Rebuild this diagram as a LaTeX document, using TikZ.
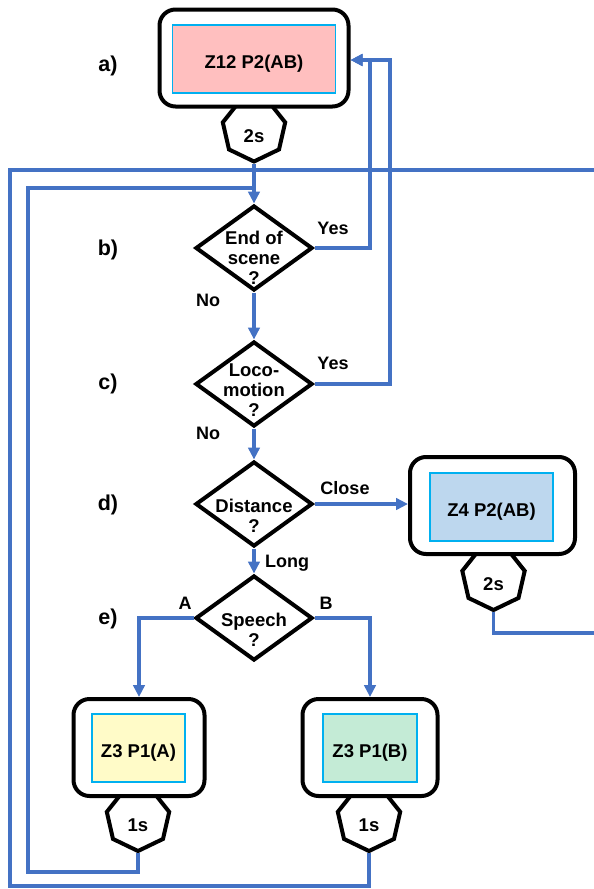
\documentclass[tikz,border=0pt]{standalone}
\usepackage{fontspec}
\setmainfont{Liberation Sans}
\usetikzlibrary{shapes.geometric,arrows.meta}
\definecolor{flowblue}{HTML}{4472C4}
\definecolor{innerline}{HTML}{00B0F0}
\definecolor{pinkfill}{HTML}{FFBFBF}
\definecolor{yellowfill}{HTML}{FFFBC8}
\definecolor{mintfill}{HTML}{C4EBD6}
\definecolor{bluefill}{HTML}{BDD7EE}
\begin{document}
\begin{tikzpicture}[x=1pt,y=-1pt,
  every node/.style={font=\bfseries\fontsize{18.5}{20}\selectfont},
  outerbox/.style={draw=black, line width=4pt, rounded corners=16pt, fill=white, minimum height=97pt},
  innerbox/.style={draw=innerline, line width=1.3pt, minimum height=68pt, text height=18pt, text depth=0pt, inner sep=0pt},
  hepta/.style={draw=black, line width=4pt, fill=white, regular polygon, regular polygon sides=7, shape border rotate=180, minimum size=64pt, inner sep=0pt, text height=25pt, text depth=0pt},
  decision/.style={draw=black, line width=4pt, fill=white, diamond, minimum width=117pt, minimum height=85pt, inner sep=0pt},
  dtext/.style={align=center, inner sep=0pt},
  steplabel/.style={font=\bfseries\fontsize{21.5}{24}\selectfont},
  edgelabel/.style={font=\bfseries\fontsize{18}{20}\selectfont, inner sep=0pt},
  flow/.style={draw=flowblue, line width=3.5pt},
  arr/.style={flow, -{Triangle[length=12pt,width=11.5pt]}},
]
\useasboundingbox (0,0) rectangle (594,889);

% a) scene box with its timer
\node[hepta] (ha) at (254,129.5) {2s};
\node[outerbox, minimum width=189pt] (boxa) at (254,58) {};
\node[innerbox, fill=pinkfill, minimum width=163pt] (ina) at (254,59) {Z12 P2(AB)};

% decisions
\node[decision] (db) at (254,248) {};
\node[dtext] (tb) at (254,258) {End of\\scene\\?};
\node[decision] (dc) at (254,384) {};
\node[dtext] (tc) at (254,390) {Loco-\\motion\\?};
\node[decision] (dd) at (254,504) {};
\node[dtext] (td) at (254,516) {Distance\\?};
\node[decision] (de) at (254,618) {};
\node[dtext] (te) at (254,629.5) {Speech\\?};

% d) close-distance box
\node[hepta] (hz) at (493.5,578) {2s};
\node[outerbox, minimum width=165pt] (boxz) at (492.5,505.5) {};
\node[innerbox, fill=bluefill, minimum width=123pt] (inz) at (491.5,507) {Z4 P2(AB)};

% e) speech boxes
\node[hepta] (hpa) at (138,819) {1s};
\node[outerbox, minimum width=131pt] (boxpa) at (139,747.5) {};
\node[innerbox, fill=yellowfill, minimum width=93pt] (inpa) at (138.5,748) {Z3 P1(A)};
\node[hepta] (hpb) at (369,819) {1s};
\node[outerbox, minimum width=135pt] (boxpb) at (370,747.5) {};
\node[innerbox, fill=mintfill, minimum width=94pt] (inpb) at (370,748) {Z3 P1(B)};

% step labels
\node[steplabel] (sa) at (108,66) {a)};
\node[steplabel] (sb) at (108,250) {b)};
\node[steplabel] (sc) at (108,384) {c)};
\node[steplabel] (sd) at (108,505) {d)};
\node[steplabel] (se) at (108,619) {e)};

% edge labels
\node[edgelabel] (yb) at (333,228) {Yes};
\node[edgelabel] (yc2) at (333,363) {Yes};
\node[edgelabel] (nb) at (208,300) {No};
\node[edgelabel] (nc) at (208,433) {No};
\node[edgelabel] (cl) at (345,488) {Close};
\node[edgelabel] (lg) at (287,563) {Long};
\node[edgelabel] (ea) at (185,603) {A};
\node[edgelabel] (eb) at (326,603) {B};

% routing points
\coordinate (ya) at (370,60);
\coordinate (yc) at (390,60);
\coordinate (rz) at (600,633);
\coordinate (rt) at (600,170);
\coordinate (lb) at (10,886);
\coordinate (lt) at (10,170);
\coordinate (lq) at (28,872);
\coordinate (lqt) at (28,188);

% connectors
\draw[arr] (ha.corner 1) -- (db.north);
\draw[arr] (db.east) -| (ya) -- (ya -| boxa.east);
\draw[arr] (dc.east) -| (yc) -- (yc -| boxa.east);
\draw[arr] (db.south) -- (dc.north);
\draw[arr] (dc.south) -- (dd.north);
\draw[arr] (dd.east) -- (dd.east -| boxz.west);
\draw[arr] (dd.south) -- (de.north);
\draw[arr] (de.west) -| (boxpa.north);
\draw[arr] (de.east) -| (boxpb.north);
\draw[flow] (hz.corner 1) |- (rz) -- (rt) -- (rt -| ha.corner 1);
\draw[flow] (hpb.corner 1) |- (lb) -- (lt) -- (lt -| ha.corner 1);
\draw[flow] (hpa.corner 1) |- (lq) -- (lqt) -- (lqt -| ha.corner 1);
\end{tikzpicture}
\end{document}
